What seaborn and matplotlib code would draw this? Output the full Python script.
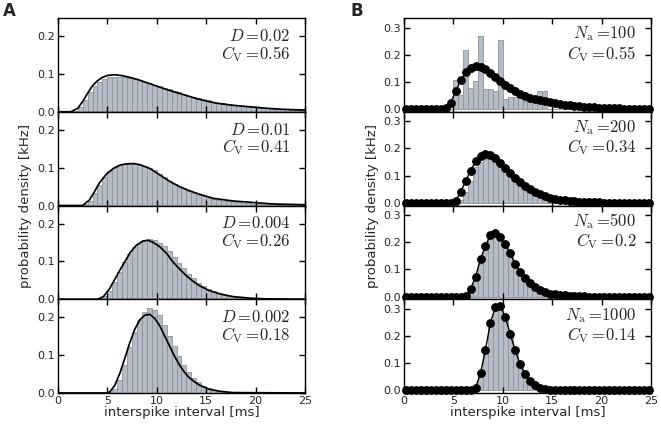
# %% Setup
import numpy as np
import pandas as pd
import matplotlib
matplotlib.use("Agg")
import matplotlib.pyplot as plt
import seaborn as sns

sns.set_style("ticks")
plt.rcParams["font.family"] = ["DejaVu Sans"]
plt.rcParams["mathtext.fontset"] = "cm"
plt.rcParams["axes.axisbelow"] = False

# %% Data (0.5 ms bins from 0 to 25 ms)
edges = [i * 0.5 for i in range(51)]
centers = [e + 0.25 for e in edges[:-1]]

# panel A: simulated histograms
hist_a1 = [0, 0, 0, 0.002, 0.012, 0.032, 0.052, 0.068, 0.080, 0.087,
           0.091, 0.092, 0.092, 0.091, 0.089, 0.087, 0.084, 0.080, 0.076, 0.071,
           0.067, 0.063, 0.059, 0.055, 0.051, 0.047, 0.043, 0.039, 0.036, 0.033,
           0.030, 0.027, 0.024, 0.022, 0.020, 0.018, 0.016, 0.014, 0.013, 0.012,
           0.011, 0.010, 0.009, 0.008, 0.007, 0.006, 0.006, 0.005, 0.005, 0.004]
hist_a2 = [0, 0, 0, 0, 0, 0.003, 0.013, 0.033, 0.055, 0.076,
           0.090, 0.100, 0.106, 0.109, 0.110, 0.110, 0.108, 0.105, 0.100, 0.093,
           0.084, 0.075, 0.066, 0.058, 0.051, 0.045, 0.039, 0.034, 0.029, 0.025,
           0.021, 0.018, 0.015, 0.013, 0.011, 0.010, 0.008, 0.007, 0.006, 0.005,
           0.004, 0.004, 0.003, 0.003, 0.002, 0.002, 0.002, 0.001, 0.001, 0.001]
hist_a3 = [0, 0, 0, 0, 0, 0, 0, 0, 0.002, 0.008,
           0.022, 0.045, 0.072, 0.098, 0.120, 0.137, 0.148, 0.156, 0.160, 0.158,
           0.150, 0.140, 0.127, 0.112, 0.097, 0.082, 0.068, 0.055, 0.044, 0.035,
           0.027, 0.021, 0.016, 0.012, 0.009, 0.007, 0.005, 0.004, 0.003, 0.002,
           0.002, 0.001, 0.001, 0.001, 0, 0, 0, 0, 0, 0]
hist_a4 = [0, 0, 0, 0, 0, 0, 0, 0, 0, 0,
           0.002, 0.010, 0.035, 0.075, 0.122, 0.162, 0.192, 0.214, 0.224, 0.220,
           0.205, 0.180, 0.152, 0.125, 0.098, 0.075, 0.055, 0.040, 0.028, 0.019,
           0.013, 0.008, 0.005, 0.003, 0.002, 0.001, 0, 0, 0, 0,
           0, 0, 0, 0, 0, 0, 0, 0, 0, 0]

# panel A: theoretical densities
curve_a1_x = [0, 1.3, 2.0, 2.5, 3.0, 3.5, 4.0, 4.5, 5.0, 5.7, 6.4, 7.1, 8.1, 9.1,
              10.1, 11.1, 12.1, 13.0, 14.0, 14.9, 16.0, 17.4, 18.6, 19.9, 21.2,
              22.4, 23.7, 25.0]
curve_a1_y = [0, 0, 0.009, 0.027, 0.049, 0.069, 0.082, 0.091, 0.096, 0.098, 0.096,
              0.092, 0.085, 0.076, 0.067, 0.058, 0.050, 0.043, 0.035, 0.029, 0.023,
              0.018, 0.015, 0.012, 0.009, 0.007, 0.0055, 0.0045]
curve_a2_x = [0, 2.5, 3.2, 3.7, 4.2, 4.9, 5.6, 6.3, 6.9, 7.6, 8.3, 9.3, 10.3, 11.3,
              12.3, 13.3, 14.3, 15.7, 17.7, 19.7, 21.8, 25.0]
curve_a2_y = [0, 0, 0.015, 0.037, 0.060, 0.083, 0.098, 0.107, 0.110, 0.111, 0.108,
              0.098, 0.081, 0.064, 0.050, 0.039, 0.030, 0.019, 0.012, 0.008, 0.004,
              0.002]
curve_a3_x = [0, 4.0, 4.6, 5.25, 5.9, 6.6, 7.3, 7.9, 8.6, 9.1, 9.6, 10.3, 11.0, 11.6,
              12.3, 13.0, 13.7, 14.3, 15.3, 16.4, 17.7, 19.4, 21.0, 25.0]
curve_a3_y = [0, 0, 0.007, 0.029, 0.060, 0.092, 0.123, 0.142, 0.154, 0.156, 0.151,
              0.139, 0.121, 0.100, 0.080, 0.062, 0.047, 0.036, 0.023, 0.014, 0.007,
              0.003, 0.001, 0]
curve_a4_x = [0, 5.0, 5.25, 5.75, 6.26, 6.77, 7.27, 7.78, 8.3, 8.8, 9.3, 9.8, 10.3,
              10.8, 11.3, 11.8, 12.3, 12.8, 13.3, 13.8, 14.3, 15.3, 16.4, 17.7, 25.0]
curve_a4_y = [0, 0, 0.003, 0.020, 0.052, 0.092, 0.133, 0.169, 0.194, 0.206, 0.208,
              0.197, 0.178, 0.151, 0.124, 0.097, 0.074, 0.055, 0.040, 0.030, 0.021,
              0.010, 0.0045, 0.001, 0]

# panel B: finite-network histograms
hist_b1 = [0, 0, 0, 0, 0, 0, 0, 0, 0, 0,
           0.107, 0.052, 0.216, 0.079, 0.105, 0.268, 0.074, 0.072, 0.068, 0.254,
           0.037, 0.045, 0.045, 0.040, 0.030, 0.025, 0.022, 0.065, 0.065, 0,
           0, 0, 0, 0, 0, 0, 0, 0, 0, 0,
           0, 0, 0, 0, 0, 0, 0, 0, 0, 0]
hist_b2 = [0, 0, 0, 0, 0, 0, 0, 0, 0, 0,
           0, 0.010, 0.040, 0.080, 0.130, 0.150, 0.160, 0.185, 0.170, 0.158,
           0.120, 0.100, 0.090, 0.078, 0.065, 0.053, 0.043, 0.035, 0.028, 0.020,
           0.015, 0.010, 0.006, 0.004, 0.002, 0, 0, 0, 0, 0,
           0, 0, 0, 0, 0, 0, 0, 0, 0, 0]
hist_b3 = [0, 0, 0, 0, 0, 0, 0, 0, 0, 0,
           0, 0, 0, 0.020, 0.060, 0.120, 0.170, 0.215, 0.225, 0.215,
           0.190, 0.155, 0.120, 0.090, 0.065, 0.045, 0.030, 0.020, 0.012, 0.007,
           0.004, 0.002, 0, 0, 0, 0, 0, 0, 0, 0,
           0, 0, 0, 0, 0, 0, 0, 0, 0, 0]
hist_b4 = [0, 0, 0, 0, 0, 0, 0, 0, 0, 0,
           0, 0, 0, 0, 0.010, 0.055, 0.140, 0.240, 0.290, 0.300,
           0.265, 0.200, 0.145, 0.095, 0.058, 0.033, 0.017, 0.008, 0, 0,
           0, 0, 0, 0, 0, 0, 0, 0, 0, 0,
           0, 0, 0, 0, 0, 0, 0, 0, 0, 0]

# panel B: mean-field densities at bin centres (dots)
dens_b1 = [0, 0, 0, 0, 0, 0, 0, 0, 0.005, 0.024,
           0.067, 0.106, 0.135, 0.150, 0.157, 0.155, 0.146, 0.133, 0.118, 0.103,
           0.089, 0.077, 0.066, 0.056, 0.047, 0.041, 0.036, 0.032, 0.028, 0.025,
           0.022, 0.019, 0.016, 0.014, 0.012, 0.010, 0.009, 0.007, 0.006, 0.005,
           0.004, 0.004, 0.003, 0.003, 0.002, 0.002, 0.002, 0.001, 0.001, 0.001]
dens_b2 = [0, 0, 0, 0, 0, 0, 0, 0, 0, 0,
           0.008, 0.040, 0.080, 0.118, 0.152, 0.172, 0.180, 0.175, 0.163, 0.147,
           0.128, 0.109, 0.092, 0.076, 0.062, 0.050, 0.040, 0.032, 0.025, 0.019,
           0.015, 0.012, 0.009, 0.007, 0.005, 0.004, 0.003, 0.003, 0.002, 0.002,
           0.001, 0.001, 0.001, 0.001, 0, 0, 0, 0, 0, 0]
dens_b3 = [0, 0, 0, 0, 0, 0, 0, 0, 0, 0,
           0, 0, 0.003, 0.028, 0.073, 0.138, 0.187, 0.227, 0.232, 0.220,
           0.193, 0.159, 0.120, 0.091, 0.067, 0.048, 0.034, 0.024, 0.017, 0.011,
           0.008, 0.005, 0.004, 0.003, 0.002, 0.001, 0.001, 0, 0, 0,
           0, 0, 0, 0, 0, 0, 0, 0, 0, 0]
dens_b4 = [0, 0, 0, 0, 0, 0, 0, 0, 0, 0,
           0, 0, 0, 0, 0.010, 0.062, 0.148, 0.249, 0.305, 0.311,
           0.270, 0.207, 0.148, 0.096, 0.059, 0.035, 0.018, 0.008, 0.004, 0.002,
           0.001, 0, 0, 0, 0, 0, 0, 0, 0, 0,
           0, 0, 0, 0, 0, 0, 0, 0, 0, 0]

labels_a = [("D", "0.02", "0.56"), ("D", "0.01", "0.41"),
            ("D", "0.004", "0.26"), ("D", "0.002", "0.18")]
labels_b = [("N_\\mathrm{a}", "100", "0.55"), ("N_\\mathrm{a}", "200", "0.34"),
            ("N_\\mathrm{a}", "500", "0.2"), ("N_\\mathrm{a}", "1000", "0.14")]

hists_a = [hist_a1, hist_a2, hist_a3, hist_a4]
curves_a = [(curve_a1_x, curve_a1_y), (curve_a2_x, curve_a2_y),
            (curve_a3_x, curve_a3_y), (curve_a4_x, curve_a4_y)]
hists_b = [hist_b1, hist_b2, hist_b3, hist_b4]
dens_b = [dens_b1, dens_b2, dens_b3, dens_b4]

# %% Figure
bar_color = "#b6bcc5"
edge_color = "#8c939c"

fig = plt.figure(figsize=(6.61, 4.26), dpi=100)
gs_a = fig.add_gridspec(4, 1, left=0.0877, right=0.4614, top=0.9577, bottom=0.0775, hspace=0)
gs_b = fig.add_gridspec(4, 1, left=0.611, right=0.985, top=0.9577, bottom=0.0775, hspace=0)


def style_axis(ax, yticks, ylim, bottom):
    ax.set_xlim(0, 25)
    ax.set_ylim(*ylim)
    ax.set_xticks([0, 5, 10, 15, 20, 25])
    ax.set_yticks(yticks)
    ax.set_yticklabels([f"{t:.1f}" for t in yticks])
    ax.tick_params(direction="in", length=4, width=1.0, labelsize=8, color="black",
                   top=True, right=True, bottom=True, left=True,
                   labelbottom=bottom, pad=2)
    for sp in ax.spines.values():
        sp.set_visible(True)
        sp.set_linewidth(1.0)
        sp.set_color("black")
    ax.set_ylabel("")
    ax.set_xlabel("")
    if bottom:
        ax.set_xlabel("interspike interval [ms]", fontsize=9.5, labelpad=0)


def add_label(ax, sym, val, cv, ytop):
    ax.text(0.94, ytop, f"${sym}=\\!{val}$", transform=ax.transAxes,
            ha="right", va="center", fontsize=12)
    ax.text(0.94, 0.62, f"$C_\\mathrm{{V}}=\\!{cv}$", transform=ax.transAxes,
            ha="right", va="center", fontsize=12)


for i in range(4):
    ax = fig.add_subplot(gs_a[i])
    df = pd.DataFrame({"t": centers, "p": hists_a[i]})
    sns.histplot(data=df, x="t", weights="p", bins=edges, ax=ax, color=bar_color,
                 edgecolor=edge_color, linewidth=0.6, alpha=1)
    sns.lineplot(x=curves_a[i][0], y=curves_a[i][1], ax=ax, color="black", lw=1.25)
    style_axis(ax, [0.0, 0.1, 0.2], (0, 0.248), i == 3)
    add_label(ax, *labels_a[i], 0.81)

for i in range(4):
    ax = fig.add_subplot(gs_b[i])
    df = pd.DataFrame({"t": centers, "p": hists_b[i], "d": dens_b[i]})
    sns.histplot(data=df, x="t", weights="p", bins=edges, ax=ax, color=bar_color,
                 edgecolor=edge_color, linewidth=0.6, alpha=1)
    sns.lineplot(data=df, x="t", y="d", ax=ax, color="black", lw=1.0,
                 marker="o", markersize=5.5, markeredgecolor="black",
                 markeredgewidth=0.8, clip_on=False)
    style_axis(ax, [0.0, 0.1, 0.2, 0.3], (-0.01, 0.335), i == 3)
    add_label(ax, *labels_b[i], 0.83)

fig.text(0.039, 0.5175, "probability density [kHz]", rotation=90,
         ha="center", va="center", fontsize=9.5)
fig.text(0.564, 0.5175, "probability density [kHz]", rotation=90,
         ha="center", va="center", fontsize=9.5)
fig.text(0.014, 0.975, "A", fontsize=12, fontweight="bold", ha="center", va="center")
fig.text(0.54, 0.975, "B", fontsize=12, fontweight="bold", ha="center", va="center")

fig.savefig("out.png", dpi=100)
